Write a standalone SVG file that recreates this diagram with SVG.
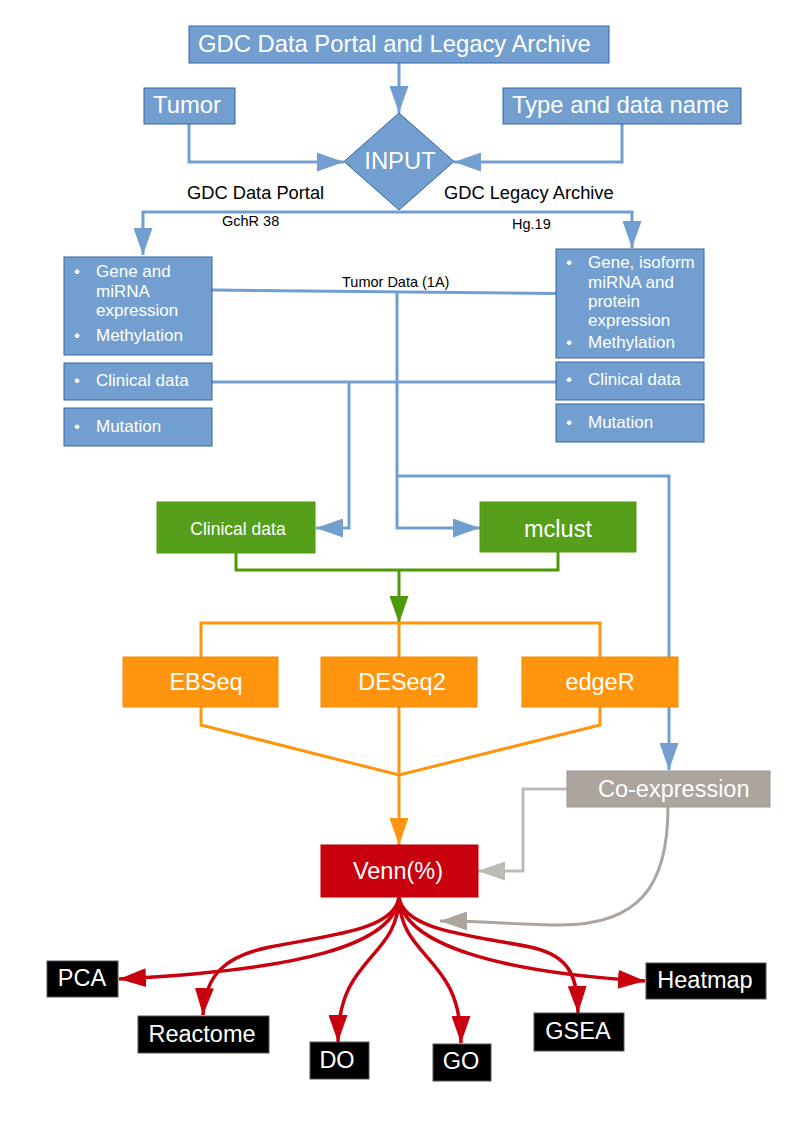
<svg xmlns="http://www.w3.org/2000/svg" width="794" height="1123" viewBox="0 0 794 1123">
<style>
text{font-family:"Liberation Sans",Arial,sans-serif;fill:#fff}
.blue{fill:#729fcf;stroke:#3465a4;stroke-width:1}
.green{fill:#559f1b;stroke:#4e9a06;stroke-width:1}
.orange{fill:#ff950e;stroke:#f08a08;stroke-width:1}
.grey{fill:#aca59e;stroke:#9e978f;stroke-width:1}
.red{fill:#c9000d;stroke:#b8000c;stroke-width:1}
.black{fill:#000;stroke:#555;stroke-width:1}
.big{font-size:23.8px}
.mid{font-size:23.5px}
.bx{font-size:17px}
.lbl{fill:#000;font-size:18.3px}
.sm{fill:#000;font-size:14.5px}
.c{text-anchor:middle}
.lb{fill:none;stroke:#729fcf;stroke-width:3}
.lg{fill:none;stroke:#4e9a06;stroke-width:3}
.lo{fill:none;stroke:#ff950e;stroke-width:3}
.lg1{fill:none;stroke:#babdb6;stroke-width:3}
.lg2{fill:none;stroke:#aca59e;stroke-width:3}
.lr{fill:none;stroke:#c9000d;stroke-width:3.5}
</style>
<defs>
<marker id="ab" viewBox="0 0 27 19" refX="27" refY="9.5" markerWidth="27" markerHeight="19" markerUnits="userSpaceOnUse" orient="auto"><path d="M0,0 L27,9.5 L0,19 z" fill="#729fcf"/></marker>
<marker id="ag" viewBox="0 0 27 19" refX="27" refY="9.5" markerWidth="27" markerHeight="19" markerUnits="userSpaceOnUse" orient="auto"><path d="M0,0 L27,9.5 L0,19 z" fill="#4e9a06"/></marker>
<marker id="ao" viewBox="0 0 27 19" refX="27" refY="9.5" markerWidth="27" markerHeight="19" markerUnits="userSpaceOnUse" orient="auto"><path d="M0,0 L27,9.5 L0,19 z" fill="#ff950e"/></marker>
<marker id="ag1" viewBox="0 0 27 19" refX="27" refY="9.5" markerWidth="27" markerHeight="19" markerUnits="userSpaceOnUse" orient="auto"><path d="M0,0 L27,9.5 L0,19 z" fill="#babdb6"/></marker>
<marker id="ag2" viewBox="0 0 27 19" refX="27" refY="9.5" markerWidth="27" markerHeight="19" markerUnits="userSpaceOnUse" orient="auto"><path d="M0,0 L27,9.5 L0,19 z" fill="#aca59e"/></marker>
<marker id="ar" viewBox="0 0 27 19" refX="27" refY="9.5" markerWidth="27" markerHeight="19" markerUnits="userSpaceOnUse" orient="auto"><path d="M0,0 L27,9.5 L0,19 z" fill="#c9000d"/></marker>
</defs>

<g id="connectors">
<path class="lb" d="M399,63 V113" marker-end="url(#ab)"/>
<path class="lb" d="M189,124 V162 H344" marker-end="url(#ab)"/>
<path class="lb" d="M622,124 V162 H454" marker-end="url(#ab)"/>
<path class="lb" d="M399,212 H143 V255" marker-end="url(#ab)"/>
<path class="lb" d="M399,212 H632 V248" marker-end="url(#ab)"/>
<path class="lb" d="M212,290 L556,293.5"/>
<path class="lb" d="M397,292 V528 H480" marker-end="url(#ab)"/>
<path class="lb" d="M397,476 H669 V770" marker-end="url(#ab)"/>
<path class="lb" d="M212,382 H556"/>
<path class="lb" d="M349,382 V528 H316" marker-end="url(#ab)"/>
<path class="lg" d="M236,553 V570 H558 V552"/>
<path class="lg" d="M399,570 V623" marker-end="url(#ag)"/>
<path class="lo" d="M201,657 V623 H600 V657"/>
<path class="lo" d="M399,623 V657"/>
<path class="lo" d="M201,707 V725 L399,775 L600,725 V707"/>
<path class="lo" d="M399,707 V845" marker-end="url(#ao)"/>
<path class="lg1" d="M567,789 H523 V871 H478" marker-end="url(#ag1)"/>
<path class="lg2" d="M668,807 C668,885 640,925 560,925 C520,925 490,921 440,921" marker-end="url(#ag2)"/>
<path class="lr" d="M399,897 C395,945 300,970 119,979" marker-end="url(#ar)"/>
<path class="lr" d="M399,897 C395,930 330,935 270,947 C225,956 205,975 203,1015" marker-end="url(#ar)"/>
<path class="lr" d="M399,897 C398,960 338,955 338,1042" marker-end="url(#ar)"/>
<path class="lr" d="M399,897 C400,960 461,955 461,1043" marker-end="url(#ar)"/>
<path class="lr" d="M399,897 C403,930 470,935 530,947 C573,956 577,980 578,1013" marker-end="url(#ar)"/>
<path class="lr" d="M399,897 C403,945 500,972 645,981" marker-end="url(#ar)"/>
<text class="lbl" x="187" y="199">GDC Data Portal</text>
<text class="lbl" x="444" y="199">GDC Legacy Archive</text>
<text class="sm" x="222" y="226">GchR 38</text>
<text class="sm" x="512" y="229">Hg.19</text>
<text class="sm" x="342" y="287">Tumor Data (1A)</text>
</g>

<g id="gdc"><rect class="blue" x="189" y="26" width="420" height="37"/><text class="big" x="198" y="52">GDC Data Portal and Legacy Archive</text></g>
<g id="tumor"><rect class="blue" x="144" y="88" width="91" height="36"/><text class="big" x="153" y="113">Tumor</text></g>
<g id="type"><rect class="blue" x="503" y="88" width="238" height="36"/><text class="big" x="512" y="113">Type and data name</text></g>
<g id="input"><polygon class="blue" points="399,113 454,161.5 399,210 344,161.5"/><text class="big c" x="400" y="169">INPUT</text></g>

<g id="portal-expr"><rect class="blue" x="64" y="257" width="148" height="98"/>
<text class="bx" x="74" y="277">•</text><text class="bx" x="96" y="277">Gene and</text><text class="bx" x="96" y="297">miRNA</text><text class="bx" x="96" y="316">expression</text>
<text class="bx" x="74" y="341">•</text><text class="bx" x="96" y="341">Methylation</text></g>
<g id="portal-clin"><rect class="blue" x="64" y="363" width="148" height="37"/><text class="bx" x="74" y="386">•</text><text class="bx" x="96" y="386">Clinical data</text></g>
<g id="portal-mut"><rect class="blue" x="64" y="408" width="148" height="38"/><text class="bx" x="74" y="432">•</text><text class="bx" x="96" y="432">Mutation</text></g>

<g id="legacy-expr"><rect class="blue" x="556" y="249" width="148" height="109"/>
<text class="bx" x="566" y="268">•</text><text class="bx" x="588" y="268">Gene, isoform</text><text class="bx" x="588" y="288">miRNA and</text><text class="bx" x="588" y="307">protein</text><text class="bx" x="588" y="326">expression</text>
<text class="bx" x="566" y="348">•</text><text class="bx" x="588" y="348">Methylation</text></g>
<g id="legacy-clin"><rect class="blue" x="556" y="362" width="148" height="38"/><text class="bx" x="566" y="385">•</text><text class="bx" x="588" y="385">Clinical data</text></g>
<g id="legacy-mut"><rect class="blue" x="556" y="404" width="148" height="38"/><text class="bx" x="566" y="428">•</text><text class="bx" x="588" y="428">Mutation</text></g>

<g id="clinical"><rect class="green" x="157" y="502" width="158" height="51"/><text class="c" style="font-size:17.5px" x="238" y="535">Clinical data</text></g>
<g id="mclust"><rect class="green" x="480" y="502" width="156" height="50"/><text class="mid c" x="558" y="537">mclust</text></g>

<g id="ebseq"><rect class="orange" x="123" y="657" width="155" height="50"/><text class="mid c" x="206" y="690">EBSeq</text></g>
<g id="deseq2"><rect class="orange" x="321" y="657" width="156" height="50"/><text class="mid c" x="402" y="690">DESeq2</text></g>
<g id="edger"><rect class="orange" x="522" y="657" width="156" height="50"/><text class="mid c" x="600" y="690">edgeR</text></g>

<g id="coexpression"><rect class="grey" x="567" y="771" width="203" height="36"/><text class="mid" x="598" y="797">Co-expression</text></g>
<g id="venn"><rect class="red" x="321" y="845" width="157" height="52"/><text class="mid c" x="398" y="879">Venn(%)</text></g>

<g id="pca"><rect class="black" x="47" y="961" width="71" height="36"/><text class="mid c" x="82" y="986">PCA</text></g>
<g id="reactome"><rect class="black" x="138" y="1016" width="131" height="37"/><text class="mid c" x="202" y="1042">Reactome</text></g>
<g id="do"><rect class="black" x="310" y="1042" width="59" height="37"/><text class="mid c" x="337" y="1068">DO</text></g>
<g id="go"><rect class="black" x="433" y="1044" width="58" height="37"/><text class="mid c" x="461" y="1069">GO</text></g>
<g id="gsea"><rect class="black" x="534" y="1013" width="90" height="38"/><text class="mid c" x="578" y="1039">GSEA</text></g>
<g id="heatmap"><rect class="black" x="646" y="963" width="120" height="36"/><text class="mid c" x="705" y="988">Heatmap</text></g>
</svg>
